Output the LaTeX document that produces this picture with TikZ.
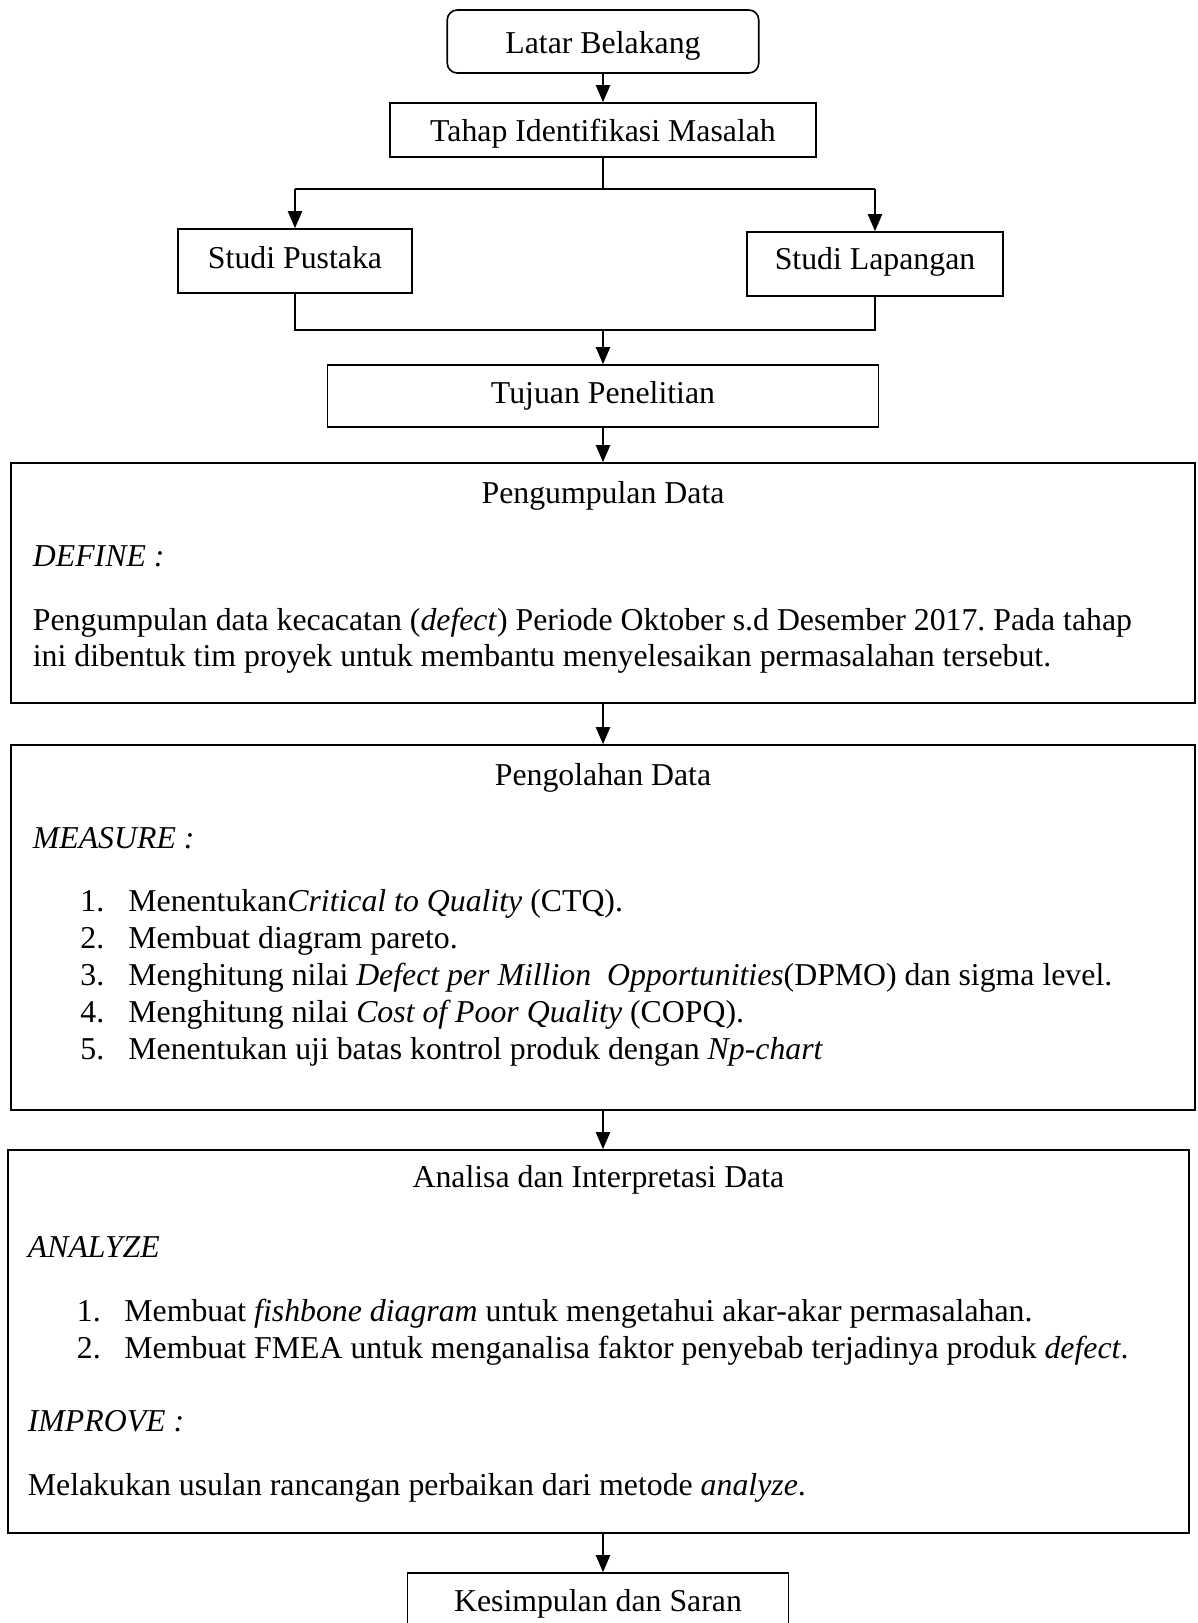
\documentclass[tikz,border=0pt]{standalone}
\usepackage{fontspec}
\setmainfont{Liberation Serif}
\usetikzlibrary{arrows.meta,calc}
\newcommand\fs{\fontsize{15.9}{18.25}\selectfont}
\tikzset{
  box/.style={draw, line width=0.8pt, inner sep=0pt},
  conn/.style={line width=1pt},
  arr/.style={conn, -{Triangle[length=8.5pt,width=7pt]}},
  txt/.style={inner sep=0pt, anchor=base, font=\fs},
  ltxt/.style={inner sep=0pt, anchor=base west, font=\fs},
}
\begin{document}
\frenchspacing
\begin{tikzpicture}[x=0.5pt,y=-0.5pt]
\useasboundingbox (0,0) rectangle (1198,1623);
\clip (0,0) rectangle (1198,1623);
\coordinate (axis) at (603,0);
% top boxes
\node[box, rounded corners=5pt, minimum width=155.75pt, minimum height=31.5pt] (lb) at (603,41.5) {};
\node[txt] (lbt) at (603,53.3) {Latar Belakang};
\node[box, minimum width=213pt, minimum height=27pt] (tim) at (603,130) {};
\node[txt] (timt) at (603,141.7) {Tahap Identifikasi Masalah};
\node[box, minimum width=117.25pt, minimum height=32pt] (sp) at (295,261) {};
\node[txt] (spt) at (295,268.3) {Studi Pustaka};
\node[box, minimum width=127.75pt, minimum height=32pt] (sl) at (875,264) {};
\node[txt] (slt) at (875,269.3) {Studi Lapangan};
\node[box, minimum width=275.5pt, minimum height=31pt] (tuj) at (603,396) {};
\node[txt] (tujt) at (603,403.3) {Tujuan Penelitian};
% Pengumpulan Data
\node[box, minimum width=591.75pt, minimum height=120pt] (pg1) at (603,583) {};
\node[txt] (pg1h) at (603,503.3) {Pengumpulan Data};
\node[ltxt] (pg1d) at (32.5,566.7) {\textit{DEFINE :}};
\node[ltxt] (pg1a) at (32.5,630) {Pengumpulan data kecacatan (\textit{defect}) Periode Oktober s.d Desember 2017. Pada tahap};
\node[ltxt] (pg1b) at (32.5,666.7) {ini dibentuk tim proyek untuk membantu menyelesaikan permasalahan tersebut.};
% Pengolahan Data
\node[box, minimum width=591.75pt, minimum height=182.5pt] (pg2) at (603,927.5) {};
\node[txt] (pg2h) at (603,785) {Pengolahan Data};
\node[ltxt] (pg2m) at (32.5,848.3) {\textit{MEASURE :}};
\node[ltxt] (n1) at (80,911.7) {1.};
\node[ltxt] (i1) at (128,911.7) {Menentukan\textit{Critical to Quality} (CTQ).};
\node[ltxt] (n2) at (80,948.5) {2.};
\node[ltxt] (i2) at (128,948.5) {Membuat diagram pareto.};
\node[ltxt] (n3) at (80,985.5) {3.};
\node[ltxt] (i3) at (128,985.5) {Menghitung nilai \textit{Defect per Million\ \ Opportunities}(DPMO) dan sigma level.};
\node[ltxt] (n4) at (80,1022.5) {4.};
\node[ltxt] (i4) at (128,1022.5) {Menghitung nilai \textit{Cost of Poor Quality} (COPQ).};
\node[ltxt] (n5) at (80,1059.5) {5.};
\node[ltxt] (i5) at (128,1059.5) {Menentukan uji batas kontrol produk dengan \textit{Np-chart}};
% Analisa
\node[box, minimum width=590.65pt, minimum height=191.5pt] (an) at (598.4,1341.5) {};
\node[txt] (anh) at (598.4,1187.3) {Analisa dan Interpretasi Data};
\node[ltxt] (ana) at (27.5,1257.3) {\textit{ANALYZE}};
\node[ltxt] (m1) at (76.5,1321.7) {1.};
\node[ltxt] (j1) at (124,1321.7) {Membuat \textit{fishbone diagram} untuk mengetahui akar-akar permasalahan.};
\node[ltxt] (m2) at (76.5,1358.3) {2.};
\node[ltxt] (j2) at (124,1358.3) {Membuat FMEA untuk menganalisa faktor penyebab terjadinya produk \textit{defect}.};
\node[ltxt] (imp) at (27.5,1431.7) {\textit{IMPROVE :}};
\node[ltxt] (mel) at (27.5,1495) {Melakukan usulan rancangan perbaikan dari metode \textit{analyze}.};
% Kesimpulan
\node[box, minimum width=190.5pt, minimum height=33pt] (ks) at (598,1606) {};
\node[txt] (kst) at (598,1611.7) {Kesimpulan dan Saran};
% connectors
\coordinate (split) at (603,189);
\coordinate (splitL) at (295,189);
\coordinate (splitR) at (875,189);
\coordinate (mL) at (295,330);
\coordinate (mR) at (875,330);
\coordinate (mC) at (603,330);
\draw[arr] (lb.south) -- (tim.north);
\draw[conn] (tim.south) -- (split);
\draw[conn] (splitL) -- (splitR);
\draw[arr] (splitL) -- (sp.north);
\draw[arr] (splitR) -- (sl.north);
\draw[conn] (sp.south) -- (mL) -- (mR) -- (sl.south);
\draw[arr] (mC) -- (tuj.north);
\draw[arr] (tuj.south) -- (pg1.north);
\draw[arr] (pg1.south) -- (pg2.north);
\draw[arr] (pg2.south) -- (an.north -| axis);
\draw[arr] (an.south -| axis) -- (ks.north -| axis);
\end{tikzpicture}
\end{document}
